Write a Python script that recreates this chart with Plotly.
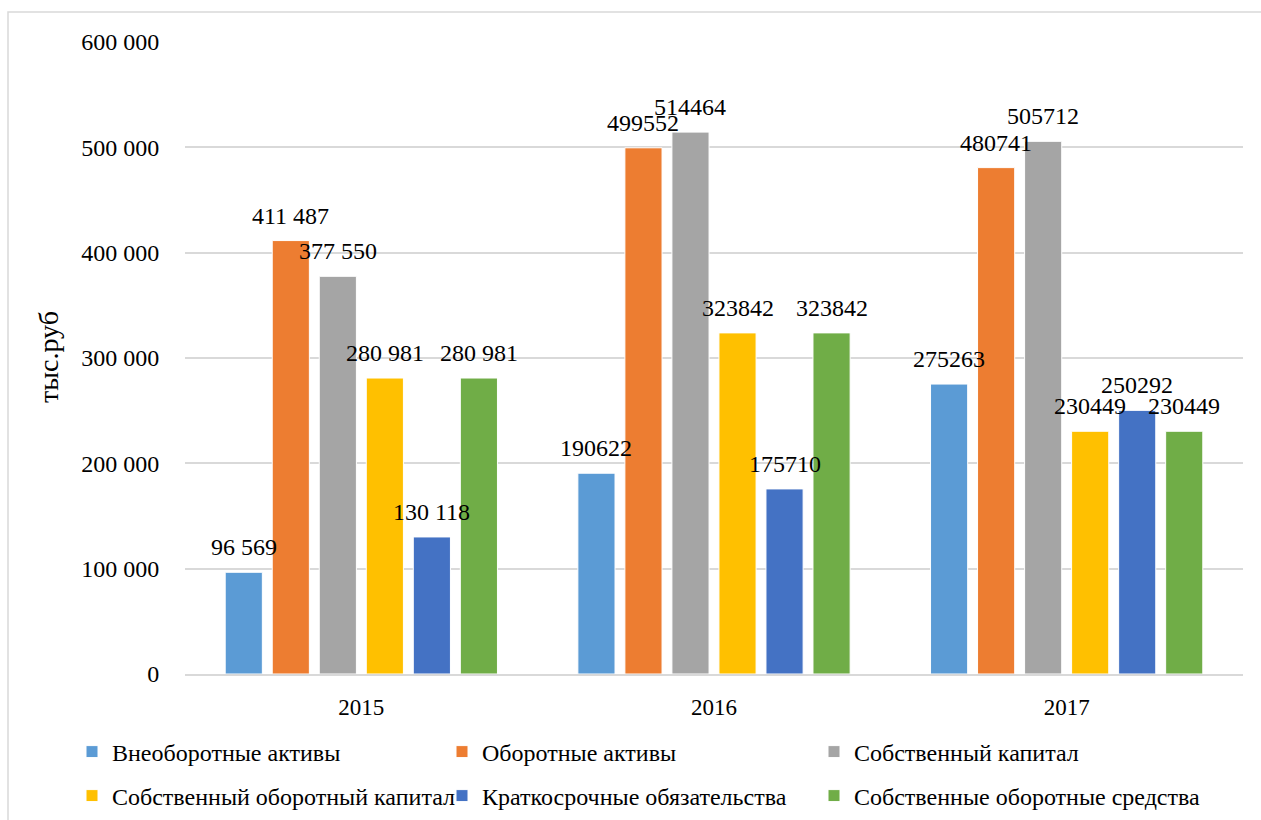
import plotly.graph_objects as go

years = ["2015", "2016", "2017"]
series_names = [
    "Внеоборотные активы",
    "Оборотные активы",
    "Собственный капитал",
    "Собственный оборотный капитал",
    "Краткосрочные обязательства",
    "Собственные оборотные средства",
]
vneoborotnye = [96569, 190622, 275263]
oborotnye = [411487, 499552, 480741]
sobstv_kapital = [377550, 514464, 505712]
sobstv_oborot_kapital = [280981, 323842, 230449]
kratkosrochnye = [130118, 175710, 250292]
sobstv_oborot_sredstva = [280981, 323842, 230449]
series_values = [vneoborotnye, oborotnye, sobstv_kapital,
                 sobstv_oborot_kapital, kratkosrochnye, sobstv_oborot_sredstva]
colors = ["#5B9BD5", "#ED7D31", "#A5A5A5", "#FFC000", "#4472C4", "#70AD47"]
y_ticks = [0, 100000, 200000, 300000, 400000, 500000, 600000]
y_tick_text = ["0", "100 000", "200 000", "300 000", "400 000", "500 000", "600 000"]

FONT = "Liberation Serif"
W, H = 1261, 820
ML, MR, MT, MB = 185, 18, 42, 146
PW = W - ML - MR
PH = H - MT - MB
BARGAP = 0.2
BARGROUPGAP = 0.21


def label(year, v):
    if year == "2015":
        return f"{v:,}".replace(",", " ")
    return str(v)


legend_cols = [72, 442, 814]
legend_rows = [752, 796]

fig = go.Figure()
legend_layout = {}
for i, (name, vals, col) in enumerate(zip(series_names, series_values, colors)):
    key = "legend" if i == 0 else f"legend{i + 1}"
    fig.add_trace(go.Bar(
        x=years, y=vals, name=name,
        marker=dict(color=col, line=dict(color="white", width=1)),
        legend=key,
    ))
    cx = legend_cols[i % 3]
    ry = legend_rows[i // 3]
    legend_layout[key] = dict(
        orientation="h", x=(cx - ML) / PW, xanchor="left",
        y=(MT + PH - ry) / PH, yanchor="middle",
        font=dict(family=FONT, size=24, color="black"),
        bgcolor="rgba(0,0,0,0)",
    )

cat_px = PW / len(years)
pitch = (1 - BARGAP) * cat_px / len(series_names)
annotations = []
for i, vals in enumerate(series_values):
    for j, (yr, v) in enumerate(zip(years, vals)):
        annotations.append(dict(
            x=j, y=v, xref="x", yref="y", text=label(yr, v),
            showarrow=False, yanchor="bottom", xanchor="center",
            xshift=round((i - 2.5) * pitch, 2), yshift=10,
            font=dict(family=FONT, size=24, color="black"),
        ))

annotations.append(dict(
    x=(48 - ML) / PW, y=(MT + PH - 357) / PH, xref="paper", yref="paper",
    text="тыс.руб", textangle=-90, showarrow=False,
    xanchor="center", yanchor="middle",
    font=dict(family=FONT, size=28, color="black"),
))

fig.update_layout(
    width=W, height=H,
    margin=dict(l=ML, r=MR, t=MT, b=MB, autoexpand=False),
    paper_bgcolor="white", plot_bgcolor="white",
    barmode="group", bargap=BARGAP, bargroupgap=BARGROUPGAP,
    font=dict(family=FONT, size=24, color="black"),
    annotations=annotations,
    showlegend=True,
    shapes=[dict(type="rect", xref="paper", yref="paper",
                 x0=(8 - ML) / PW, x1=(1300 - ML) / PW,
                 y0=(MT + PH - 860) / PH, y1=(MT + PH - 12) / PH,
                 line=dict(color="#D9D9D9", width=1.5), fillcolor="rgba(0,0,0,0)",
                 layer="below")],
    **legend_layout,
)
fig.update_yaxes(range=[0, 600000], tickvals=y_ticks, ticktext=y_tick_text,
                 showgrid=True, gridcolor="#D9D9D9", gridwidth=1.5,
                 zeroline=False, showline=False,
                 ticks="outside", ticklen=20, tickcolor="rgba(0,0,0,0)",
                 tickfont=dict(family=FONT, size=24, color="black"))
fig.update_xaxes(type="category", range=[-0.5, 2.5],
                 showline=True, linecolor="#D9D9D9", linewidth=1.5,
                 ticks="outside", ticklen=12, tickcolor="rgba(0,0,0,0)",
                 tickfont=dict(family=FONT, size=23, color="black"))

fig.write_html("out.html")
